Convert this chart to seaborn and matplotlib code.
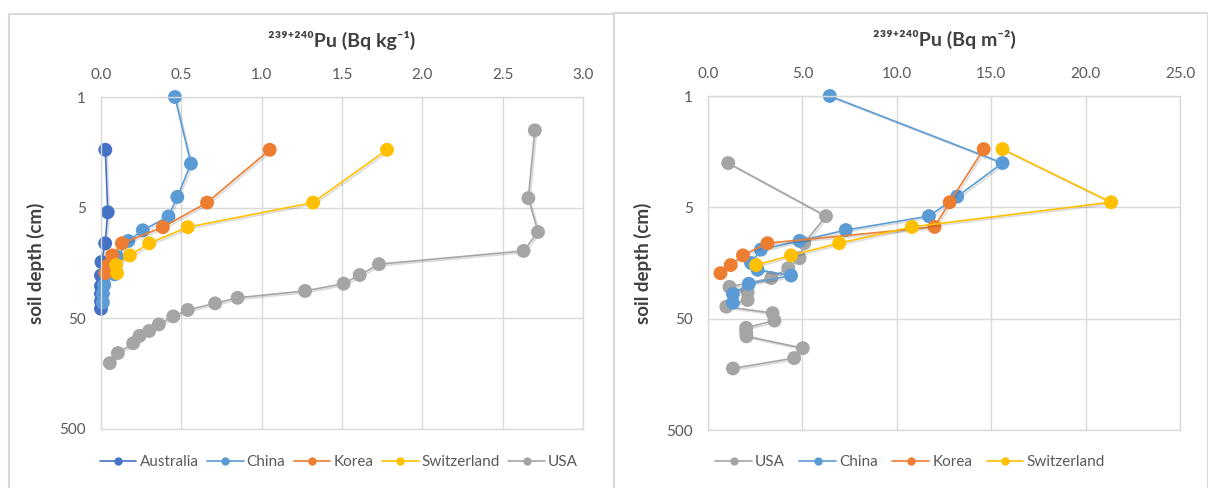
import numpy as np
import pandas as pd
import matplotlib
matplotlib.use("Agg")
import matplotlib.pyplot as plt
import matplotlib.patheffects as pe
from matplotlib.lines import Line2D
from matplotlib.patches import Rectangle
import seaborn as sns

# ---- left panel: activity concentration (Bq/kg) ----
aus_depth_kg = [1.5, 5.5, 10.5, 15.5, 20.5, 25.5, 30, 35, 41]
aus_kg = [0.027, 0.042, 0.026, 0.003, 0.0, 0.0, 0.0, 0.0, 0.0]
chn_depth_kg = [0.5, 2, 4, 6, 8, 10, 14, 20, 25, 30, 36]
chn_kg = [0.46, 0.56, 0.475, 0.42, 0.26, 0.17, 0.10, 0.085, 0.02, 0.012, 0.012]
kor_depth_kg = [1.5, 4.5, 7.5, 10.5, 13.5, 16.5, 19.5]
kor_kg = [1.05, 0.66, 0.385, 0.13, 0.07, 0.045, 0.027]
swi_depth_kg = [1.5, 4.5, 7.5, 10.5, 13.5, 16.5, 19.5]
swi_kg = [1.78, 1.32, 0.54, 0.30, 0.18, 0.094, 0.10]
usa_depth_kg = [1, 4.1, 8.3, 12.3, 16.2, 20.3, 24.3, 28.3, 32.6, 36.6, 42, 48, 56.7, 65, 72, 84, 103, 127]
usa_kg = [2.70, 2.66, 2.72, 2.63, 1.73, 1.61, 1.51, 1.27, 0.85, 0.71, 0.54, 0.45, 0.36, 0.30, 0.24, 0.20, 0.105, 0.055]

# ---- right panel: inventory (Bq/m2) ----
usa_depth_m2 = [2, 6, 10.5, 14.3, 17.6, 21.6, 25.9, 29, 34, 39, 44.6, 52, 60.5, 66, 72, 92, 113, 140]
usa_m2 = [1.07, 6.25, 5.1, 4.85, 4.25, 3.35, 1.14, 2.1, 2.1, 0.97, 3.42, 3.52, 2.02, 2.02, 2.04, 5.02, 4.56, 1.32]
chn_depth_m2 = [0.5, 2, 4, 6, 8, 10, 12, 15.8, 18.2, 20.5, 24.3, 30, 36]
chn_m2 = [6.45, 15.6, 13.2, 11.7, 7.3, 4.85, 2.8, 2.28, 2.63, 4.4, 2.16, 1.32, 1.32]
kor_depth_m2 = [1.5, 4.5, 7.5, 10.5, 13.5, 16.5, 19.5]
kor_m2 = [14.6, 12.8, 12.0, 3.15, 1.85, 1.2, 0.66]
swi_depth_m2 = [1.5, 4.5, 7.5, 10.5, 13.5, 16.5]
swi_m2 = [15.6, 21.35, 10.8, 6.95, 4.4, 2.55]

depth_ticks = [0.5, 5, 50, 500]
depth_labels = ["1", "5", "50", "500"]

colors = {"Australia": "#4472C4", "China": "#5B9BD5", "Korea": "#ED7D31",
          "Switzerland": "#FFC000", "USA": "#A5A5A5"}


def make_df(series):
    rows = []
    for name, d, v in series:
        for di, vi in zip(d, v):
            rows.append({"country": name, "depth": di, "value": vi})
    return pd.DataFrame(rows)


left_df = make_df([("Australia", aus_depth_kg, aus_kg), ("China", chn_depth_kg, chn_kg),
                   ("Korea", kor_depth_kg, kor_kg), ("Switzerland", swi_depth_kg, swi_kg),
                   ("USA", usa_depth_kg, usa_kg)])
right_df = make_df([("USA", usa_depth_m2, usa_m2), ("China", chn_depth_m2, chn_m2),
                    ("Korea", kor_depth_m2, kor_m2), ("Switzerland", swi_depth_m2, swi_m2)])

sns.set_theme(style="white")
plt.rcParams["font.family"] = ["Lato", "DejaVu Sans"]

fig = plt.figure(figsize=(12.08, 4.88), dpi=100)
axL = fig.add_axes([101 / 1208, 1 - 429 / 488, 482 / 1208, 332 / 488])
axR = fig.add_axes([708 / 1208, 1 - 430 / 488, 472 / 1208, 334 / 488])

# chart frames
for x0, x1, y0 in [(9, 614, 14), (614, 1208, 13)]:
    fig.patches.append(Rectangle((x0 / 1208, -0.05), (x1 - x0) / 1208, 1.05 - y0 / 488,
                                 transform=fig.transFigure, fill=False,
                                 edgecolor="#D9D9D9", linewidth=1.5))

tick_col = "#595959"
grid_col = "#D9D9D9"
shadow = [pe.SimpleLineShadow(offset=(1.2, -1.2), shadow_color="#000000", alpha=0.14), pe.Normal()]


def draw_panel(ax, df, order, xmax, xstep, title):
    for name in order:
        sub = df[df["country"] == name]
        sns.lineplot(data=sub, x="value", y="depth", sort=False, estimator=None,
                     color=colors[name], marker="o", markersize=10,
                     markeredgewidth=0, linewidth=1.2, ax=ax, legend=False)
    for ln in ax.get_lines():
        ln.set_clip_on(False)
        ln.set_path_effects(shadow)
    ax.set_yscale("log")
    ax.set_ylim(500, 0.5)
    ax.set_yticks(depth_ticks)
    ax.set_yticklabels(depth_labels)
    ax.yaxis.set_minor_locator(matplotlib.ticker.NullLocator())
    ax.set_xlim(0, xmax)
    ax.set_xticks(np.arange(0, xmax + 0.001, xstep))
    ax.set_xticklabels([f"{t:.1f}" for t in np.arange(0, xmax + 0.001, xstep)])
    ax.xaxis.tick_top()
    ax.tick_params(axis="x", length=0, pad=11, labelsize=11, labelcolor=tick_col)
    ax.tick_params(axis="y", length=0, pad=11, labelsize=11, labelcolor=tick_col)
    ax.grid(True, color=grid_col, linewidth=1)
    ax.set_axisbelow(True)
    for s in ax.spines.values():
        s.set_color(grid_col)
        s.set_linewidth(1)
    ax.set_xlabel("")
    ax.set_ylabel("soil depth (cm)", fontsize=13.5, fontweight="bold", color="#404040", labelpad=10)
    ax.set_title(title, fontsize=14, fontweight="bold", color="#404040", pad=36)


draw_panel(axL, left_df, ["Australia", "China", "Korea", "Switzerland", "USA"], 3.0, 0.5,
           "²³⁹⁺²⁴⁰Pu (Bq kg⁻¹)")
draw_panel(axR, right_df, ["USA", "China", "Korea", "Switzerland"], 25.0, 5.0,
           "²³⁹⁺²⁴⁰Pu (Bq m⁻²)")


def legend_for(order, cx, spacing):
    handles = [Line2D([0], [0], color=colors[n], marker="o", markersize=6,
                      markeredgewidth=0, linewidth=1.2) for n in order]
    fig.legend(handles, order, loc="center", bbox_to_anchor=(cx / 1208, 1 - 462 / 488),
               ncol=len(order), frameon=False, fontsize=11, handlelength=2.4,
               handletextpad=0.2, columnspacing=spacing, labelcolor=tick_col)


legend_for(["Australia", "China", "Korea", "Switzerland", "USA"], 339, 0.55)
legend_for(["USA", "China", "Korea", "Switzerland"], 910, 0.95)

fig.savefig("out.png", dpi=100)
